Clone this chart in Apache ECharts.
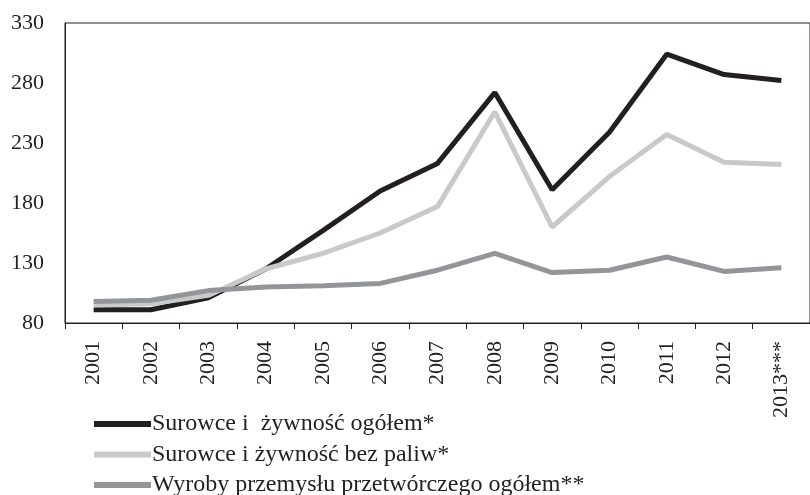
<!DOCTYPE html>
<html>
<head>
<meta charset="utf-8">
<script src="https://cdn.jsdelivr.net/npm/echarts@6/dist/echarts.min.js"></script>
<style>
  html, body { margin: 0; padding: 0; background: #fff; }
  #chart { width: 810px; height: 495px; }
</style>
</head>
<body>
<div id="chart"></div>
<script>
var years = ['2001', '2002', '2003', '2004', '2005', '2006', '2007', '2008', '2009', '2010', '2011', '2012', '2013***']
var ogolem = [91, 91, 101, 125, 157, 190, 213, 272, 191, 239, 304, 287, 282]
var bezPaliw = [95, 96, 103, 125, 138, 155, 177, 256, 160, 202, 237, 214, 212]
var wyroby = [98, 99, 107, 110, 111, 113, 124, 138, 122, 124, 135, 123, 126]
var yTicks = [80, 130, 180, 230, 280, 330]

var font = '"Liberation Serif", "Times New Roman", serif'
var ink = '#231f20'

var myChart = echarts.init(document.getElementById('chart'))
var option = {
  animation: false,
  textStyle: { fontFamily: font, color: ink },
  grid: {
    left: 65, top: 23, width: 757, height: 300,
    show: true, borderColor: ink, borderWidth: 1, backgroundColor: 'transparent'
  },
  legend: {
    orient: 'vertical',
    left: 94,
    top: 412,
    width: 600,
    height: 200,
    padding: 0,
    itemWidth: 57,
    itemHeight: 6,
    itemGap: 6.5,
    icon: 'rect',
    textStyle: { fontFamily: font, fontSize: 24, lineHeight: 23, color: ink, padding: [0, 0, 0, -4] },
    data: ['Surowce i  żywność ogółem*', 'Surowce i żywność bez paliw*', 'Wyroby przemysłu przetwórczego ogółem**']
  },
  xAxis: {
    type: 'category',
    data: years,
    boundaryGap: true,
    axisLine: { lineStyle: { color: ink, width: 1 } },
    axisTick: { show: true, length: 6, lineStyle: { color: ink } },
    axisLabel: { rotate: 90, fontFamily: font, fontSize: 22, color: ink, margin: 18 }
  },
  yAxis: {
    type: 'value',
    min: yTicks[0],
    max: yTicks[yTicks.length - 1],
    interval: 50,
    axisLine: { show: true, lineStyle: { color: ink, width: 1 } },
    axisTick: { show: false },
    splitLine: { show: false },
    axisLabel: { fontFamily: font, fontSize: 22, color: ink, margin: 21 }
  },
  series: [
    {
      name: 'Surowce i  żywność ogółem*',
      type: 'line',
      data: ogolem,
      symbol: 'none',
      color: ink,
      lineStyle: { color: ink, width: 5 }
    },
    {
      name: 'Surowce i żywność bez paliw*',
      type: 'line',
      data: bezPaliw,
      symbol: 'none',
      color: '#c8c9cb',
      lineStyle: { color: '#c8c9cb', width: 5 }
    },
    {
      name: 'Wyroby przemysłu przetwórczego ogółem**',
      type: 'line',
      data: wyroby,
      symbol: 'none',
      color: '#939598',
      lineStyle: { color: '#939598', width: 5 }
    }
  ]
}
myChart.setOption(option)
</script>
</body>
</html>
